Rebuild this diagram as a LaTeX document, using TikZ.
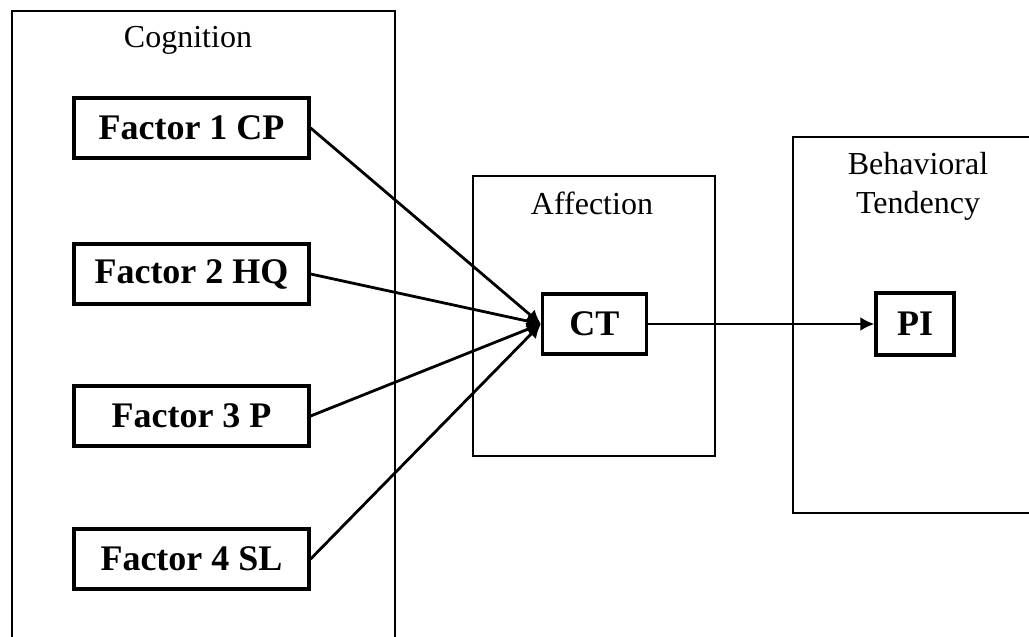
\documentclass[tikz,border=0pt]{standalone}
\usepackage{fontspec}
\setmainfont{Liberation Serif}
\usetikzlibrary{arrows.meta}
\tikzstyle{group}=[draw, line width=0.75pt, inner sep=0pt, anchor=north west]
\tikzstyle{grouplabel}=[font=\fontsize{16}{19.5}\selectfont, align=center, inner sep=0pt]
\tikzstyle{factor}=[draw, line width=1.6pt, font=\fontsize{18}{21}\selectfont\bfseries,
  minimum width=117.5pt, minimum height=30pt, inner sep=0pt]
\tikzstyle{construct}=[factor, minimum width=52pt]
\tikzstyle{line}=[draw, line width=1.4pt, -{Latex[length=7pt,width=7pt]}]

\begin{document}
\begin{tikzpicture}[x=0.5pt,y=-0.5pt]
  \useasboundingbox (0,0) rectangle (1029,637);
  \clip (0,0) rectangle (1029,637);

  % Group boxes
  \node (cog) [group, minimum width=191.5pt, minimum height=330pt] at (11,10) {};
  \node (aff) [group, minimum width=121pt, minimum height=140pt] at (472,175) {};
  \node (beh) [group, minimum width=125pt, minimum height=188pt] at (792,136) {};

  \node (coglabel) [grouplabel, anchor=base] at (188,47) {Cognition};
  \node (afflabel) [grouplabel, anchor=base] at (592,214) {Affection};
  \node (behlabel) [grouplabel] at (918,186) {Behavioral\\Tendency};

  % Cognition factors
  \node (f1) [factor] at (191.5,128) {Factor 1 CP};
  \node (f2) [factor] at (191.5,274) {Factor 2 HQ};
  \node (f3) [factor] at (191.5,416) {Factor 3 P};
  \node (f4) [factor] at (191.5,559) {Factor 4 SL};

  % Affection and behavioral tendency
  \node (ct) [construct] at (594.5,324) {CT};
  \node (pi) [construct, minimum width=39pt, minimum height=31pt] at (915,324) {PI};

  % Draw arrows
  \path [line] (f1.east) -- (ct.west);
  \path [line] (f2.east) -- (ct.west);
  \path [line] (f3.east) -- (ct.west);
  \path [line] (f4.east) -- (ct.west);
  \path [line] (ct.east) -- (pi.west);

\end{tikzpicture}
\end{document}
